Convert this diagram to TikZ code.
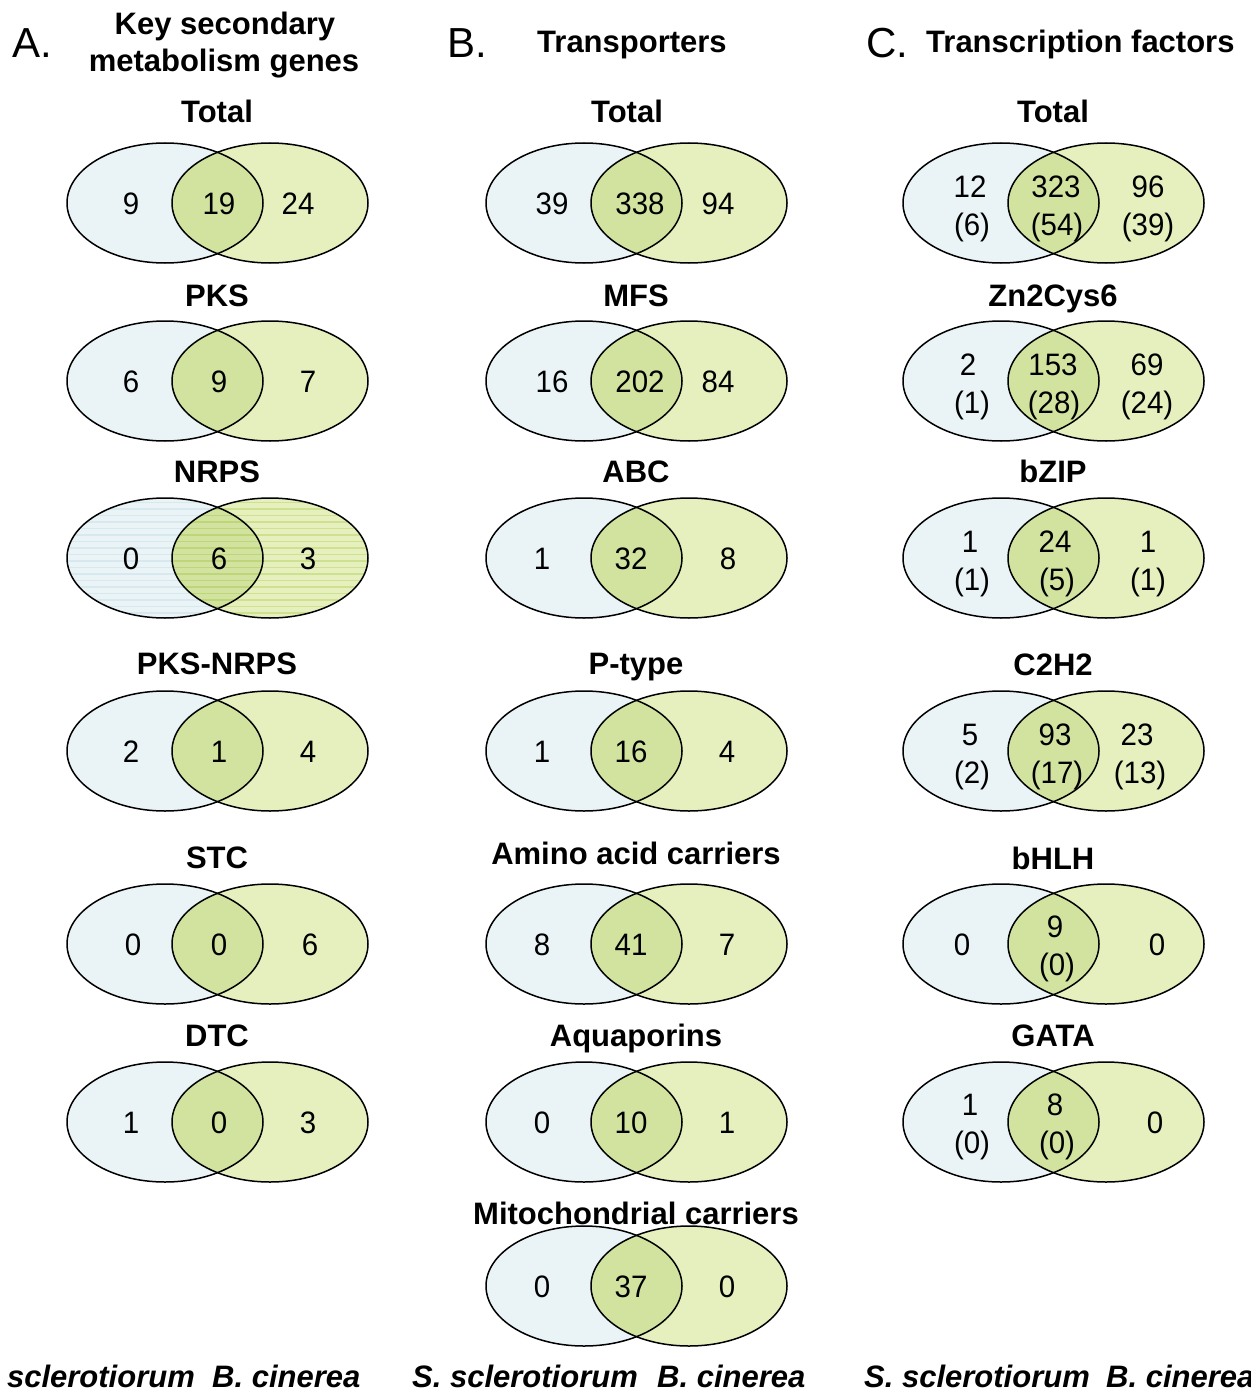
\documentclass[tikz,border=0pt]{standalone}
\usepackage{fontspec}
\setmainfont{Liberation Sans}
\definecolor{lfill}{RGB}{234,244,247}
\definecolor{rfill}{RGB}{229,240,190}
\definecolor{mfill}{RGB}{210,227,160}
\definecolor{lstripe}{RGB}{215,233,239}
\definecolor{rstripe}{RGB}{206,225,142}
\definecolor{mstripe}{RGB}{190,213,122}
\newcommand\nm[1]{\scalebox{0.95}[1]{#1}}
\newcommand\vennbox[4]{%
  \coordinate (#1L) at (#2,#3);
  \coordinate (#1R) at ({#2+105},#3);
  \fill[lfill] (#1L) ellipse [x radius=98pt, y radius=60pt];
  \fill[rfill] (#1R) ellipse [x radius=98pt, y radius=60pt];
  \begin{scope}
    \clip (#1L) ellipse [x radius=98pt, y radius=60pt];
    \fill[mfill] (#1R) ellipse [x radius=98pt, y radius=60pt];
  \end{scope}
  #4
  \draw[vline] (#1L) ellipse [x radius=98pt, y radius=60pt];
  \draw[vline] (#1R) ellipse [x radius=98pt, y radius=60pt];
}
\newcommand\nrpsstripes{%
  \begin{scope}
    \clip (165,558) ellipse [x radius=98pt, y radius=60pt];
    \foreach \k in {0,...,19} \draw[lstripe, line width=1.1pt] (60,{496+\k*6.5}) -- (380,{496+\k*6.5});
  \end{scope}
  \begin{scope}
    \clip (270,558) ellipse [x radius=98pt, y radius=60pt];
    \foreach \k in {0,...,19} \draw[rstripe, line width=1.1pt] (60,{496+\k*6.5}) -- (380,{496+\k*6.5});
  \end{scope}
  \begin{scope}
    \clip (165,558) ellipse [x radius=98pt, y radius=60pt];
    \clip (270,558) ellipse [x radius=98pt, y radius=60pt];
    \foreach \k in {0,...,19} \draw[mstripe, line width=1.1pt] (60,{496+\k*6.5}) -- (380,{496+\k*6.5});
  \end{scope}
}
\tikzset{
  vline/.style={draw=black, line width=1.5pt},
  num/.style={anchor=base, inner sep=0pt, font=\fontsize{31}{36}\selectfont},
  ttl/.style={anchor=base, inner sep=0pt, font=\bfseries\fontsize{31}{37}\selectfont},
  hdr/.style={anchor=base, inner sep=0pt, font=\bfseries\fontsize{31}{37}\selectfont},
  letter/.style={anchor=base west, inner sep=0pt, font=\fontsize{42}{48}\selectfont},
  species/.style={anchor=base west, inner sep=0pt, font=\bfseries\itshape\fontsize{31}{37}\selectfont},
}
\begin{document}
\begin{tikzpicture}[x=1pt,y=-1pt]
\useasboundingbox (0,0) rectangle (1250,1391);
\clip (0,0) rectangle (1250,1391);
\fill[white] (0,0) rectangle (1250,1391);

% ---------- headers ----------
\node[letter] (hA) at (12,58) {A.};
\node[hdr] (hA1) at (225,35) {Key secondary};
\node[hdr] (hA2) at (224,72) {metabolism genes};
\node[letter] (hB) at (447,58) {B.};
\node[hdr, anchor=base west] (hB1) at (537,53) {Transporters};
\node[letter] (hC) at (866,58) {C.};
\node[hdr, anchor=base west] (hC1) at (926,53) {Transcription factors};

% ---------- column A ----------
\node[ttl] (tA1) at (217,123) {Total};
\vennbox{vA1}{165}{203}{}
\node[num] (nA1a) at (131,214) {\nm{9}};
\node[num] (nA1b) at (219,214) {\nm{19}};
\node[num] (nA1c) at (298,214) {\nm{24}};

\node[ttl] (tA2) at (217,306) {PKS};
\vennbox{vA2}{165}{381}{}
\node[num] (nA2a) at (131,392) {\nm{6}};
\node[num] (nA2b) at (219,392) {\nm{9}};
\node[num] (nA2c) at (308,392) {\nm{7}};

\node[ttl] (tA3) at (217,482) {NRPS};
\vennbox{vA3}{165}{558}{\nrpsstripes}
\node[num] (nA3a) at (131,569) {\nm{0}};
\node[num] (nA3b) at (219,569) {\nm{6}};
\node[num] (nA3c) at (308,569) {\nm{3}};

\node[ttl] (tA4) at (217,674) {PKS-NRPS};
\vennbox{vA4}{165}{751}{}
\node[num] (nA4a) at (131,762) {\nm{2}};
\node[num] (nA4b) at (219,762) {\nm{1}};
\node[num] (nA4c) at (308,762) {\nm{4}};

\node[ttl] (tA5) at (217,868) {STC};
\vennbox{vA5}{165}{944}{}
\node[num] (nA5a) at (133,955) {\nm{0}};
\node[num] (nA5b) at (219,955) {\nm{0}};
\node[num] (nA5c) at (310,955) {\nm{6}};

\node[ttl] (tA6) at (217,1046) {DTC};
\vennbox{vA6}{165}{1122}{}
\node[num] (nA6a) at (131,1133) {\nm{1}};
\node[num] (nA6b) at (219,1133) {\nm{0}};
\node[num] (nA6c) at (308,1133) {\nm{3}};

% ---------- column B ----------
\node[ttl] (tB1) at (627,123) {Total};
\vennbox{vB1}{584}{203}{}
\node[num] (nB1a) at (552,214) {\nm{39}};
\node[num] (nB1b) at (640,214) {\nm{338}};
\node[num] (nB1c) at (718,214) {\nm{94}};

\node[ttl] (tB2) at (636,306) {MFS};
\vennbox{vB2}{584}{381}{}
\node[num] (nB2a) at (552,392) {\nm{16}};
\node[num] (nB2b) at (640,392) {\nm{202}};
\node[num] (nB2c) at (718,392) {\nm{84}};

\node[ttl] (tB3) at (636,482) {ABC};
\vennbox{vB3}{584}{558}{}
\node[num] (nB3a) at (542,569) {\nm{1}};
\node[num] (nB3b) at (631,569) {\nm{32}};
\node[num] (nB3c) at (728,569) {\nm{8}};

\node[ttl] (tB4) at (636,674) {P-type};
\vennbox{vB4}{584}{751}{}
\node[num] (nB4a) at (542,762) {\nm{1}};
\node[num] (nB4b) at (631,762) {\nm{16}};
\node[num] (nB4c) at (727,762) {\nm{4}};

\node[ttl] (tB5) at (636,864) {Amino acid carriers};
\vennbox{vB5}{584}{944}{}
\node[num] (nB5a) at (542,955) {\nm{8}};
\node[num] (nB5b) at (631,955) {\nm{41}};
\node[num] (nB5c) at (727,955) {\nm{7}};

\node[ttl] (tB6) at (636,1046) {Aquaporins};
\vennbox{vB6}{584}{1122}{}
\node[num] (nB6a) at (542,1133) {\nm{0}};
\node[num] (nB6b) at (631,1133) {\nm{10}};
\node[num] (nB6c) at (727,1133) {\nm{1}};

\node[ttl] (tB7) at (636,1224) {Mitochondrial carriers};
\vennbox{vB7}{584}{1286}{}
\node[num] (nB7a) at (542,1297) {\nm{0}};
\node[num] (nB7b) at (631,1297) {\nm{37}};
\node[num] (nB7c) at (727,1297) {\nm{0}};

% ---------- column C ----------
\node[ttl] (tC1) at (1053,123) {Total};
\vennbox{vC1}{1001}{203}{}
\node[num] (nC1a) at (970,197) {\nm{12}};
\node[num] (nC1d) at (972,235) {\nm{(6)}};
\node[num] (nC1b) at (1056,197) {\nm{323}};
\node[num] (nC1e) at (1057,235) {\nm{(54)}};
\node[num] (nC1c) at (1148,197) {\nm{96}};
\node[num] (nC1f) at (1148,235) {\nm{(39)}};

\node[ttl] (tC2) at (1053,306) {Zn2Cys6};
\vennbox{vC2}{1001}{381}{}
\node[num] (nC2a) at (968,375) {\nm{2}};
\node[num] (nC2d) at (972,413) {\nm{(1)}};
\node[num] (nC2b) at (1053,375) {\nm{153}};
\node[num] (nC2e) at (1054,413) {\nm{(28)}};
\node[num] (nC2c) at (1147,375) {\nm{69}};
\node[num] (nC2f) at (1147,413) {\nm{(24)}};

\node[ttl] (tC3) at (1053,482) {bZIP};
\vennbox{vC3}{1001}{558}{}
\node[num] (nC3a) at (970,552) {\nm{1}};
\node[num] (nC3d) at (972,590) {\nm{(1)}};
\node[num] (nC3b) at (1055,552) {\nm{24}};
\node[num] (nC3e) at (1057,590) {\nm{(5)}};
\node[num] (nC3c) at (1148,552) {\nm{1}};
\node[num] (nC3f) at (1148,590) {\nm{(1)}};

\node[ttl] (tC4) at (1053,675) {C2H2};
\vennbox{vC4}{1001}{751}{}
\node[num] (nC4a) at (970,745) {\nm{5}};
\node[num] (nC4d) at (972,783) {\nm{(2)}};
\node[num] (nC4b) at (1055,745) {\nm{93}};
\node[num] (nC4e) at (1057,783) {\nm{(17)}};
\node[num] (nC4c) at (1137,745) {\nm{23}};
\node[num] (nC4f) at (1140,783) {\nm{(13)}};

\node[ttl] (tC5) at (1053,869) {bHLH};
\vennbox{vC5}{1001}{944}{}
\node[num] (nC5a) at (962,955) {\nm{0}};
\node[num] (nC5b) at (1055,937) {\nm{9}};
\node[num] (nC5e) at (1057,975) {\nm{(0)}};
\node[num] (nC5c) at (1157,955) {\nm{0}};

\node[ttl] (tC6) at (1053,1046) {GATA};
\vennbox{vC6}{1001}{1122}{}
\node[num] (nC6a) at (970,1115) {\nm{1}};
\node[num] (nC6d) at (972,1153) {\nm{(0)}};
\node[num] (nC6b) at (1055,1115) {\nm{8}};
\node[num] (nC6e) at (1057,1153) {\nm{(0)}};
\node[num] (nC6c) at (1155,1133) {\nm{0}};

% ---------- species labels ----------
\node[species] (sA1) at (-31,1387) {S. sclerotiorum};
\node[species] (sA2) at (212,1387) {B. cinerea};
\node[species] (sB1) at (412,1387) {S. sclerotiorum};
\node[species] (sB2) at (657,1387) {B. cinerea};
\node[species] (sC1) at (864,1387) {S. sclerotiorum};
\node[species] (sC2) at (1106,1387) {B. cinerea};
\end{tikzpicture}
\end{document}
